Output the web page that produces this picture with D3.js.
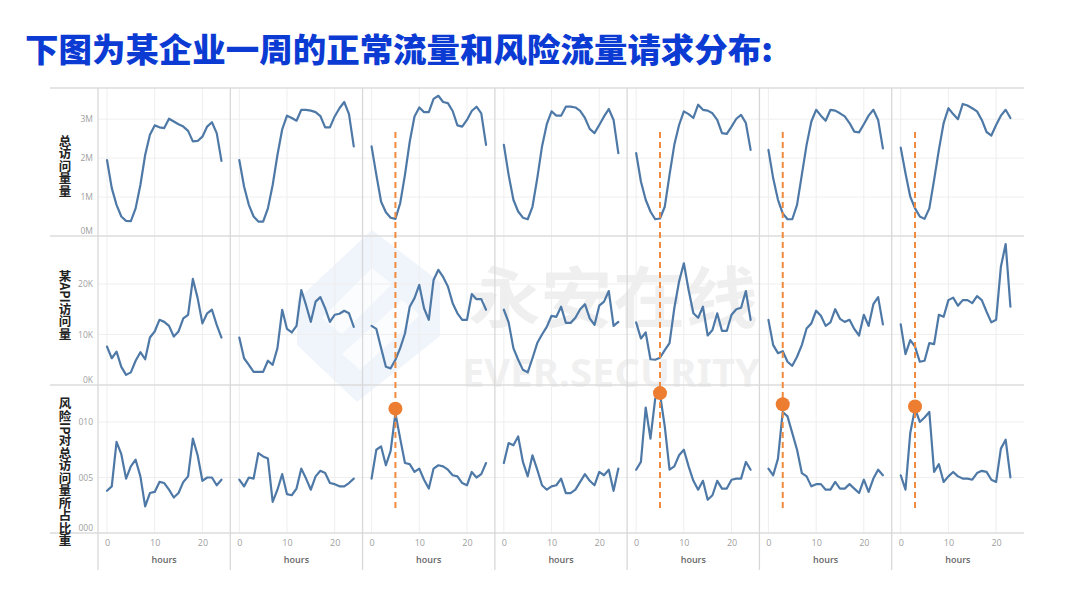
<!DOCTYPE html>
<html>
<head>
<meta charset="utf-8">
<script src="https://cdn.jsdelivr.net/npm/d3@7"></script>
<style>
  body { margin: 0; background: #fff; }
  svg { display: block; }
</style>
</head>
<body>
<svg id="chart" width="1080" height="609"></svg>
<script>
// ---------------- DATA ----------------
const titleText = "下图为某企业一周的正常流量和风险流量请求分布:";
const rowTitles = ["总访问量量", "某API访问量", "风险IP对总访问量所占比重"];

const hourTicks = [0, 10, 20];
const hourTickLabels = ["0", "10", "20"];
const xAxisTitle = "hours";

// Row 1: total visits (millions), one array per day
const totalVisits = [
  [1.95,1.23,0.80,0.50,0.39,0.38,0.71,1.31,2.08,2.60,2.84,2.79,2.77,3.01,2.94,2.87,2.81,2.70,2.43,2.44,2.55,2.81,2.92,2.64,1.93],
  [1.95,1.27,0.80,0.50,0.37,0.37,0.71,1.31,2.08,2.74,3.09,3.03,2.96,3.24,3.24,3.22,3.18,3.08,2.79,2.79,3.07,3.28,3.44,3.13,2.30],
  [2.30,1.57,0.88,0.61,0.47,0.44,0.84,1.57,2.42,3.07,3.30,3.18,3.18,3.52,3.60,3.44,3.41,3.21,2.84,2.81,2.98,3.21,3.32,3.15,2.34],
  [2.34,1.57,0.93,0.63,0.47,0.43,0.75,1.48,2.30,2.87,3.20,3.09,3.09,3.32,3.32,3.30,3.21,3.03,2.75,2.64,2.85,3.07,3.26,2.98,2.13],
  [2.13,1.40,0.93,0.63,0.43,0.45,0.75,1.57,2.34,2.85,3.20,3.13,3.03,3.37,3.24,3.22,3.15,2.98,2.64,2.62,2.81,3.01,3.11,2.90,2.21],
  [2.21,1.48,0.93,0.58,0.43,0.43,0.80,1.57,2.34,2.94,3.24,3.09,2.96,3.24,3.22,3.15,3.07,2.90,2.68,2.66,2.87,3.09,3.24,2.98,2.25],
  [2.27,1.61,1.01,0.71,0.50,0.44,0.71,1.44,2.21,2.90,3.28,3.13,3.00,3.39,3.35,3.28,3.20,2.98,2.67,2.58,2.85,3.09,3.24,3.03]
];
const totalTicks = [0, 1, 2, 3];
const totalTickLabels = ["0M", "1M", "2M", "3M"];

// Row 2: one API visits (thousands)
const apiVisits = [
  [7.6,5.3,6.6,3.6,2.0,2.5,4.8,6.5,5.1,9.4,10.6,12.9,12.5,11.7,9.6,10.6,13.2,13.9,21.0,17.2,12.2,14.2,14.9,11.9,9.4],
  [9.4,5.3,4.0,2.6,2.6,2.6,4.8,4.0,7.3,14.9,11.1,10.4,11.7,18.8,15.8,12.5,16.5,17.4,15.2,12.5,13.9,14.1,14.7,14.2,11.5],
  [11.7,11.1,7.3,3.6,3.3,5.0,7.3,10.2,15.5,17.2,19.8,15.2,12.9,20.8,22.8,21.4,19.5,16.2,14.2,12.9,12.9,18.0,17.0,17.0,14.9],
  [14.9,12.4,7.3,5.0,3.0,2.5,5.3,8.3,10.0,11.5,13.7,13.5,15.5,12.3,12.3,13.3,15.0,16.0,13.2,11.9,15.7,16.5,18.6,11.7,12.5],
  [12.4,9.2,10.4,5.1,5.0,5.4,6.9,8.3,15.2,20.5,24.1,18.8,14.2,13.3,15.5,9.8,10.9,14.2,10.7,10.7,13.9,15.0,15.3,18.6,12.9],
  [12.9,7.9,6.3,6.7,4.6,3.8,5.6,7.9,11.2,12.2,14.7,13.7,11.7,12.4,15.0,13.1,12.5,12.9,11.1,9.8,13.9,11.7,16.0,17.4,12.0],
  [12.0,6.1,8.9,7.6,4.6,4.8,8.3,8.1,13.9,13.5,16.8,17.3,15.7,16.8,16.8,16.2,17.6,16.8,14.5,12.4,12.9,23.4,27.9,15.5]
];
const apiTicks = [0, 10, 20];
const apiTickLabels = ["0K", "10K", "20K"];

// Row 3: risk-IP share of total visits
const riskRatio = [
  [0.038,0.042,0.082,0.071,0.049,0.060,0.066,0.051,0.024,0.036,0.037,0.046,0.045,0.039,0.032,0.036,0.046,0.051,0.085,0.070,0.047,0.050,0.050,0.043,0.048],
  [0.048,0.042,0.050,0.049,0.072,0.069,0.067,0.028,0.039,0.053,0.035,0.034,0.040,0.058,0.049,0.039,0.051,0.056,0.054,0.045,0.044,0.042,0.042,0.045,0.049],
  [0.049,0.075,0.078,0.061,0.074,0.108,0.085,0.063,0.062,0.055,0.058,0.048,0.040,0.058,0.061,0.060,0.057,0.052,0.051,0.045,0.043,0.055,0.050,0.053,0.063],
  [0.063,0.081,0.079,0.087,0.064,0.051,0.070,0.057,0.043,0.039,0.042,0.043,0.049,0.036,0.036,0.039,0.046,0.053,0.047,0.043,0.055,0.052,0.057,0.038,0.058],
  [0.057,0.064,0.113,0.085,0.121,0.125,0.096,0.057,0.060,0.070,0.075,0.060,0.047,0.039,0.047,0.030,0.034,0.047,0.040,0.040,0.048,0.049,0.049,0.064,0.057],
  [0.058,0.052,0.067,0.109,0.105,0.090,0.075,0.054,0.051,0.042,0.044,0.044,0.039,0.039,0.046,0.040,0.040,0.044,0.040,0.036,0.048,0.037,0.049,0.057,0.052],
  [0.052,0.039,0.090,0.112,0.100,0.104,0.109,0.055,0.062,0.046,0.051,0.055,0.051,0.049,0.049,0.048,0.054,0.056,0.055,0.048,0.046,0.076,0.084,0.050]
];
const riskTicks = [0, 0.05, 0.10];
const riskTickLabels = ["000", "005", "010"];

// Highlighted risk events: day index, hour, value of the marker
const markerDays = [2, 4, 5, 6];
const markerHours = [5, 5, 3, 3];
const markerValues = [0.112, 0.126, 0.116, 0.114];

// ---------------- LAYOUT ----------------
const svg = d3.select("#chart");
const gridLeft = 98, gridRight = 1024, lineLeft = 50;
const nCols = 7;
const colW = (gridRight - gridLeft) / nCols;
const rowBands = [[88, 236], [236, 385], [385, 533]];
const xPad = 9, hourPx = 4.77;
const blue = "#4e79a7", orange = "#ED7D31";

const rows = [
  { data: totalVisits, domain: [0, 3.8], ticks: totalTicks, labels: totalTickLabels, labelY: 166 },
  { data: apiVisits,   domain: [0, 29.5], ticks: apiTicks, labels: apiTickLabels, labelY: 305 },
  { data: riskRatio,   domain: [0, 0.1333], ticks: riskTicks, labels: riskTickLabels, labelY: 472 }
];
rows.forEach((r, i) => {
  r.y = d3.scaleLinear().domain(r.domain).range([rowBands[i][1], rowBands[i][0]]);
});
const xScales = d3.range(nCols).map(c => {
  const left = gridLeft + c * colW + xPad;
  return d3.scaleLinear().domain([0, 24]).range([left, left + 24 * hourPx]);
});

// ---------------- TITLE ----------------
svg.append("text")
  .attr("x", 25).attr("y", 62)
  .attr("font-family", "'Noto Sans CJK SC', sans-serif")
  .attr("font-weight", 900)
  .attr("font-size", 32.5)
  .attr("textLength", 748).attr("lengthAdjust", "spacingAndGlyphs")
  .attr("fill", "#0b3bd3")
  .text(titleText);

// ---------------- WATERMARK ----------------
const wm = svg.append("g").attr("pointer-events", "none");
wm.append("path")
  .attr("d", "M297,300 L297,345 L357,402 L440,336 L440,282 L372,230 Z")
  .attr("fill", "#dde6f7").attr("opacity", 0.45);
wm.append("path")
  .attr("d", "M322,318 L372,268 L392,284 L342,334 Z M342,354 L402,300 L420,315 L360,370 Z")
  .attr("fill", "#ffffff").attr("opacity", 0.7);
wm.append("text")
  .attr("x", 468).attr("y", 322)
  .attr("font-family", "'Noto Sans CJK SC', sans-serif")
  .attr("font-weight", 700).attr("font-size", 66)
  .attr("textLength", 290).attr("lengthAdjust", "spacingAndGlyphs")
  .attr("fill", "#000").attr("opacity", 0.06)
  .text("永安在线");
wm.append("text")
  .attr("x", 462).attr("y", 387)
  .attr("font-family", "'Noto Sans', sans-serif")
  .attr("font-weight", 700).attr("font-size", 40)
  .attr("textLength", 298).attr("lengthAdjust", "spacingAndGlyphs")
  .attr("fill", "#000").attr("opacity", 0.055)
  .text("EVER.SECURITY");

// ---------------- GRID ----------------
const grid = svg.append("g");
rows.forEach(r => {
  grid.selectAll(null).data(r.ticks.filter(t => t > 0)).enter().append("line")
    .attr("x1", gridLeft).attr("x2", gridRight)
    .attr("y1", d => r.y(d)).attr("y2", d => r.y(d))
    .attr("stroke", "#efefef").attr("stroke-width", 1);
});
xScales.forEach(xs => {
  grid.selectAll(null).data(hourTicks).enter().append("line")
    .attr("x1", d => xs(d)).attr("x2", d => xs(d))
    .attr("y1", rowBands[0][0]).attr("y2", rowBands[2][1])
    .attr("stroke", "#eeeeee").attr("stroke-width", 1);
});
const rowEdges = [rowBands[0][0], rowBands[1][0], rowBands[2][0], rowBands[2][1]];
grid.selectAll(null).data(rowEdges).enter().append("line")
  .attr("x1", lineLeft).attr("x2", gridRight)
  .attr("y1", d => d).attr("y2", d => d)
  .attr("stroke", "#dcdcdc").attr("stroke-width", 1.3);
grid.selectAll(null).data(d3.range(nCols)).enter().append("line")
  .attr("x1", c => gridLeft + c * colW).attr("x2", c => gridLeft + c * colW)
  .attr("y1", rowBands[0][0]).attr("y2", 570)
  .attr("stroke", "#d8d8d8").attr("stroke-width", 1.3);

// ---------------- Y AXES + ROW TITLES ----------------
rows.forEach((r, i) => {
  const ax = d3.axisLeft(r.y).tickValues(r.ticks).tickSize(0).tickPadding(5)
    .tickFormat((d, k) => r.labels[k]);
  const g = svg.append("g").attr("transform", `translate(${gridLeft},0)`).call(ax);
  g.select(".domain").remove();
  g.selectAll("text")
    .attr("font-family", "'Open Sans', sans-serif").attr("font-size", 8.5)
    .attr("fill", "#a0a0a0")
    .attr("dy", (d) => d === 0 ? "-0.3em" : "0.32em");

  svg.append("text")
    .attr("x", 65).attr("y", r.labelY)
    .style("writing-mode", "vertical-rl")
    .attr("text-anchor", "middle")
    .attr("font-family", "'Noto Sans CJK SC', sans-serif")
    .attr("font-weight", 700).attr("font-size", 12.5)
    .attr("fill", "#222")
    .text(rowTitles[i]);
});

// ---------------- X AXES ----------------
xScales.forEach((xs, c) => {
  const ax = d3.axisBottom(xs).tickValues(hourTicks).tickSize(0).tickPadding(7)
    .tickFormat((d, k) => hourTickLabels[k]);
  const g = svg.append("g").attr("transform", `translate(0,${rowBands[2][1]})`).call(ax);
  g.select(".domain").remove();
  g.selectAll("text")
    .attr("font-family", "'Open Sans', sans-serif").attr("font-size", 9)
    .attr("fill", "#a0a0a0");
  svg.append("text")
    .attr("x", gridLeft + c * colW + colW / 2).attr("y", 563)
    .attr("text-anchor", "middle")
    .attr("font-family", "'Open Sans', sans-serif").attr("font-weight", 600)
    .attr("font-size", 9).attr("fill", "#666")
    .text(xAxisTitle);
});

// ---------------- LINES ----------------
const linesG = svg.append("g");
rows.forEach(r => {
  r.data.forEach((series, c) => {
    const xs = xScales[c];
    const line = d3.line().x((d, i) => xs(i)).y(d => r.y(d));
    linesG.append("path")
      .attr("d", line(series))
      .attr("fill", "none")
      .attr("stroke", blue)
      .attr("stroke-width", 2.2)
      .attr("stroke-linejoin", "round")
      .attr("stroke-linecap", "round");
  });
});

// ---------------- ANNOTATIONS ----------------
const dashTopValue = 2.67;     // on row-1 scale
const dashBottomValue = 0.0207; // on row-3 scale
markerDays.forEach((c, k) => {
  const x = xScales[c](markerHours[k]);
  svg.append("line")
    .attr("x1", x).attr("x2", x)
    .attr("y1", rows[0].y(dashTopValue)).attr("y2", rows[2].y(dashBottomValue))
    .attr("stroke", "#F08A3E").attr("stroke-width", 2)
    .attr("stroke-dasharray", "6 4");
  svg.append("circle")
    .attr("cx", x).attr("cy", rows[2].y(markerValues[k]))
    .attr("r", 7)
    .attr("fill", orange);
});
</script>
</body>
</html>
